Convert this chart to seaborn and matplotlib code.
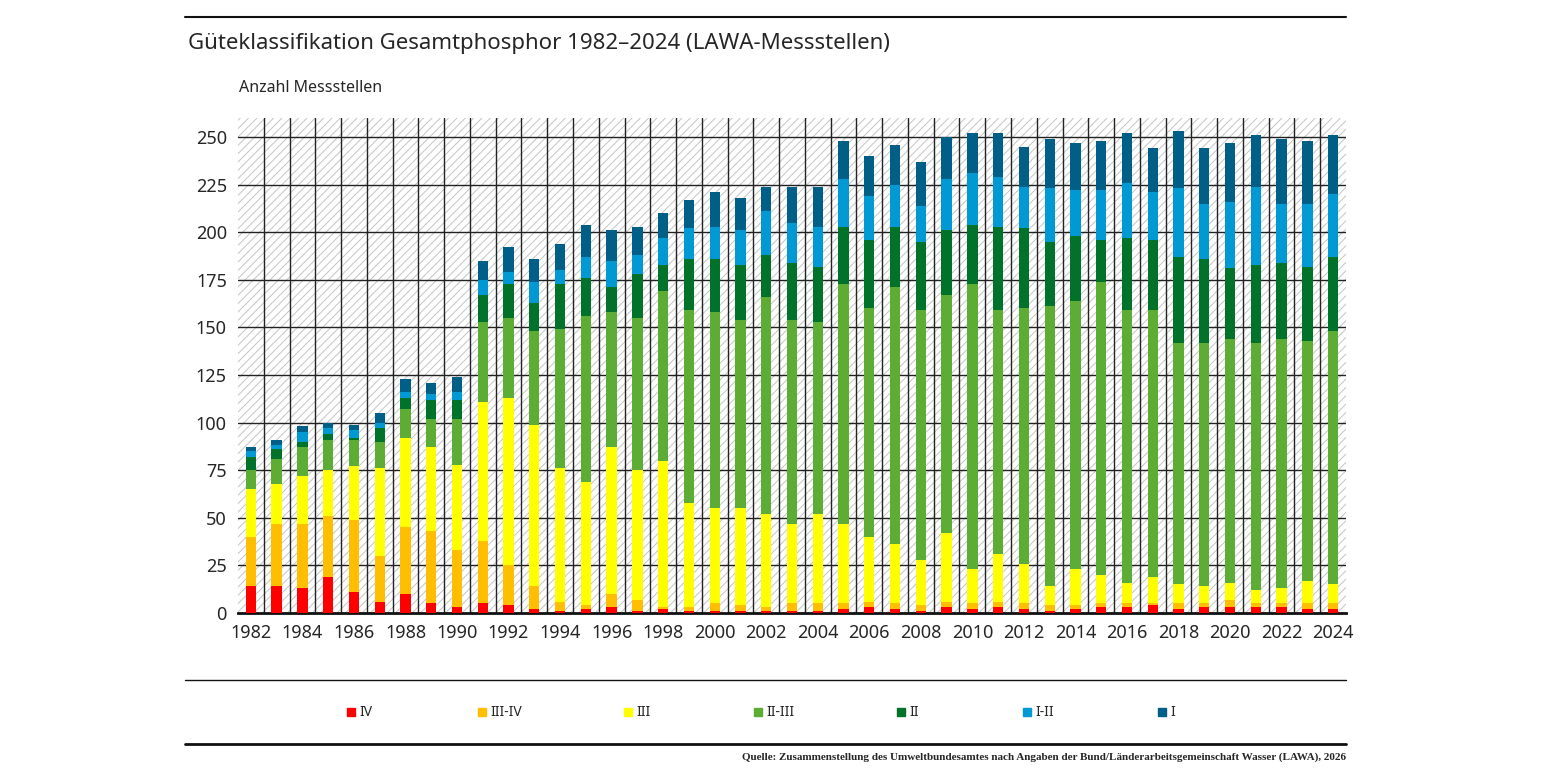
import numpy as np
import pandas as pd
import matplotlib
matplotlib.use("Agg")
import matplotlib.pyplot as plt
import seaborn as sns
from matplotlib.patches import Rectangle
from matplotlib.lines import Line2D

years = list(range(1982, 2025))
classes = ["IV", "III-IV", "III", "II-III", "II", "I-II", "I"]
colors = ["#ff0000", "#ffbf00", "#ffff00", "#5dad35", "#007229", "#0099d4", "#005f87"]

# cumulative tops: IV, III-IV, III, II-III, II, I-II, I (= total)
cum_tops = [
    [14, 40, 65, 75, 82, 85, 87],
    [14, 47, 68, 81, 86, 88, 91],
    [13, 47, 72, 87, 90, 95, 98],
    [19, 51, 75, 91, 94, 97, 100],
    [11, 49, 77, 91, 92, 96, 99],
    [6, 30, 76, 90, 97, 100, 105],
    [10, 45, 92, 107, 113, 116, 123],
    [5, 43, 87, 102, 112, 115, 121],
    [3, 33, 78, 102, 112, 116, 124],
    [5, 38, 111, 153, 167, 175, 185],
    [4, 25, 113, 155, 173, 179, 192],
    [2, 14, 99, 148, 163, 174, 186],
    [1, 6, 76, 149, 173, 180, 194],
    [2, 4, 69, 156, 176, 187, 204],
    [3, 10, 87, 158, 171, 185, 201],
    [1, 7, 75, 155, 178, 188, 203],
    [2, 3, 80, 169, 183, 197, 210],
    [1, 3, 58, 159, 186, 202, 217],
    [1, 5, 55, 158, 186, 203, 221],
    [1, 4, 55, 154, 183, 201, 218],
    [1, 3, 52, 166, 188, 211, 224],
    [1, 5, 47, 154, 184, 205, 224],
    [1, 5, 52, 153, 182, 203, 224],
    [2, 5, 47, 173, 203, 228, 248],
    [3, 6, 40, 160, 196, 219, 240],
    [2, 5, 36, 171, 203, 225, 246],
    [1, 4, 28, 159, 195, 214, 237],
    [3, 6, 42, 167, 201, 228, 250],
    [2, 5, 23, 173, 204, 231, 252],
    [3, 6, 31, 159, 203, 229, 252],
    [2, 5, 26, 160, 202, 224, 245],
    [1, 4, 14, 161, 195, 223, 249],
    [2, 4, 23, 164, 198, 222, 247],
    [3, 5, 20, 174, 196, 222, 248],
    [3, 5, 16, 159, 197, 226, 252],
    [4, 5, 19, 159, 196, 221, 244],
    [2, 5, 15, 142, 187, 223, 253],
    [3, 5, 14, 142, 186, 215, 244],
    [3, 7, 16, 144, 181, 216, 247],
    [3, 5, 12, 142, 183, 224, 251],
    [3, 5, 13, 144, 184, 215, 249],
    [2, 5, 17, 143, 182, 215, 248],
    [2, 5, 15, 148, 187, 220, 251],
]

sns.set_style("white")
plt.rcParams["font.family"] = ["Noto Sans", "DejaVu Sans"]
plt.rcParams["hatch.linewidth"] = 0.7
plt.rcParams["hatch.color"] = "#c4c4c4"

cum = np.array(cum_tops)
counts = np.diff(np.hstack([np.zeros((len(years), 1)), cum]), axis=1)
df = pd.DataFrame(counts, columns=classes)
df["year"] = [str(y) for y in years]

fig = plt.figure(figsize=(15.45, 7.75), dpi=100)
ax = fig.add_axes([238 / 1545, 1 - 613 / 775, (1346 - 238) / 1545, (613 - 118) / 775])

# hatched background
ax.add_patch(Rectangle((0, 0), 1, 1, transform=ax.transAxes, facecolor="white",
                       edgecolor="#c4c4c4", hatch="////", linewidth=0, zorder=0))

bottom = np.zeros(len(years))
for c, col in zip(classes, colors):
    sns.barplot(data=df, x="year", y=c, color=col, width=0.4, bottom=bottom,
                saturation=1, ax=ax, zorder=3, linewidth=0)
    bottom = bottom + df[c].values

ax.set_xlim(-0.5, len(years) - 0.5)
ax.set_ylim(0, 260)
ax.set_yticks(range(0, 251, 25))
ax.set_xticks(range(0, len(years), 2))
ax.set_xticklabels([str(y) for y in years[::2]])
ax.set_xticks(np.arange(0.5, len(years) - 0.5, 1), minor=True)
for x in np.arange(0.5, len(years) - 0.5, 1):
    ax.axvline(x, color="#222222", lw=1, zorder=1)
for y in range(25, 251, 25):
    ax.axhline(y, color="#222222", lw=1, zorder=1)
ax.set_xlabel("")
ax.set_ylabel("")
ax.tick_params(axis="both", labelsize=13, length=0, pad=8)
ax.tick_params(axis="x", which="minor", length=5, color="#222222", direction="out")
for s in ["top", "right", "left"]:
    ax.spines[s].set_visible(False)
ax.spines["bottom"].set_linewidth(2)
ax.spines["bottom"].set_color("#111111")

fig.text(188 / 1545, 1 - 44 / 775, "Güteklassifikation Gesamtphosphor 1982–2024 (LAWA-Messstellen)",
         fontsize=16, fontweight="bold", va="center")
fig.text(239 / 1545, 1 - 88 / 775, "Anzahl Messstellen", fontsize=11.5, fontweight="bold", va="center")

for yy, lw in [(17, 1.5), (680, 1), (744, 2)]:
    fig.add_artist(Line2D([185 / 1545, 1346 / 1545], [1 - yy / 775] * 2, color="#111111", lw=lw))

leg_x = [347, 478, 624, 754, 897, 1023, 1158]
for lx, c, col in zip(leg_x, classes, colors):
    fig.add_artist(Rectangle((lx / 1545, 1 - 716 / 775), 8 / 1545, 8 / 775, color=col))
    fig.text((lx + 12) / 1545, 1 - 712 / 775, c, fontsize=10, va="center")

fig.text(1346 / 1545, 1 - 757 / 775,
         "Quelle: Zusammenstellung des Umweltbundesamtes nach Angaben der Bund/Länderarbeitsgemeinschaft Wasser (LAWA), 2026",
         fontsize=8, ha="right", va="center", family=["Liberation Serif", "DejaVu Serif"], fontweight="bold")

fig.savefig("out.png", dpi=100)
